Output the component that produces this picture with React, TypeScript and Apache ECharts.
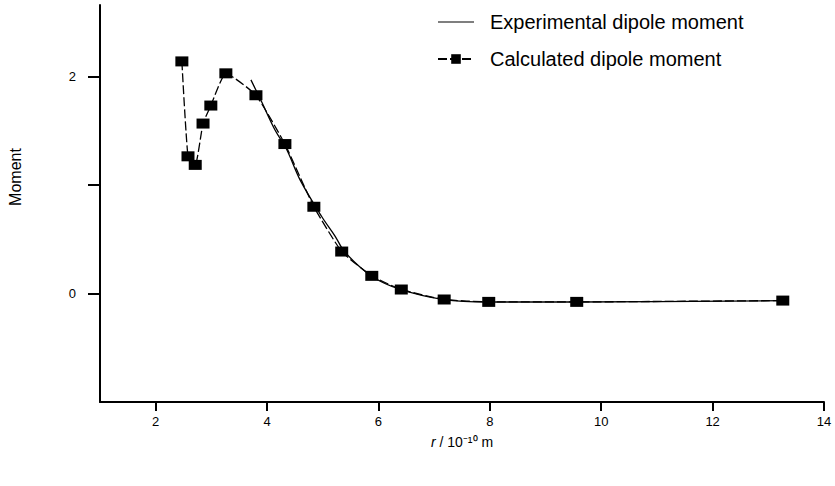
import React, { useEffect, useRef } from "react";
import * as echarts from "echarts";

const calcX = [2.47, 2.58, 2.71, 2.85, 2.99, 3.26, 3.8, 4.32, 4.84, 5.34, 5.88, 6.41, 7.18, 7.98, 9.56, 13.26];
const calcY = [2.14, 1.265, 1.186, 1.567, 1.733, 2.03, 1.828, 1.378, 0.8, 0.387, 0.163, 0.037, -0.055, -0.077, -0.077, -0.065];

const expX = [3.71, 3.9, 4.14, 4.35, 4.59, 4.98, 5.22, 5.4, 5.88, 6.41, 7.18, 7.98, 9.56, 13.26];
const expY = [1.97, 1.77, 1.51, 1.33, 1.05, 0.71, 0.53, 0.38, 0.16, 0.035, -0.057, -0.078, -0.078, -0.066];

const xTicks = [2, 4, 6, 8, 10, 12, 14];
const yTicks = [0, 1, 2];
const yLabels = [0, 2];

const FONT = "'Liberation Sans', Arial, Helvetica, sans-serif";

export default function App() {
  const ref = useRef<HTMLDivElement>(null);
  useEffect(() => {
    if (!ref.current) return;
    document.body.style.margin = "0";
    const chart = echarts.init(ref.current, null, { renderer: "svg" });
    chart.setOption({
      animation: false,
      backgroundColor: "#fff",
      textStyle: { fontFamily: FONT, color: "#000" },
      grid: { left: 100, right: 11, top: 5, bottom: 84 },
      legend: {
        orient: "vertical",
        left: 432,
        top: 7,
        itemWidth: 36,
        itemHeight: 12,
        itemGap: 17,
        textStyle: { fontSize: 20, color: "#000", fontFamily: FONT, padding: [0, 0, 0, 11] },
        data: [
          { name: "Experimental dipole moment", icon: "path://M0,0 L36,0 L36,1.2 L0,1.2 Z" },
          { name: "Calculated dipole moment" },
        ],
      },
      xAxis: {
        type: "value",
        min: 1,
        max: 14,
        name: "{i|r} / 10\u207B\u00B9\u2070 m",
        nameLocation: "middle",
        nameGap: 33,
        nameTextStyle: {
          fontSize: 14,
          color: "#000",
          fontFamily: FONT,
          rich: { i: { fontSize: 14, fontStyle: "italic", fontFamily: FONT, color: "#000" } },
        },
        splitLine: { show: false },
        axisLine: { onZero: false, lineStyle: { color: "#000", width: 2 } },
        axisTick: { length: 9, lineStyle: { color: "#000", width: 2 }, customValues: xTicks },
        axisLabel: { fontSize: 13, color: "#000", margin: 13, customValues: xTicks },
      },
      yAxis: {
        type: "value",
        min: -1,
        max: 2.66,
        splitLine: { show: false },
        axisLine: { onZero: false, lineStyle: { color: "#000", width: 2 } },
        axisTick: { length: 12, lineStyle: { color: "#000", width: 2 }, customValues: yTicks },
        axisLabel: { fontSize: 13, color: "#000", margin: 24, customValues: yLabels },
      },
      graphic: [
        {
          type: "text",
          x: 15,
          y: 177,
          rotation: Math.PI / 2,
          style: {
            text: "Moment",
            fontSize: 16,
            fontFamily: FONT,
            fill: "#000",
            align: "center",
            verticalAlign: "middle",
          },
        },
      ],
      series: [
        {
          name: "Experimental dipole moment",
          type: "line",
          data: expX.map((x, i) => [x, expY[i]]),
          smooth: 0.35,
          symbol: "none",
          lineStyle: { color: "#000", width: 1.3 },
          itemStyle: { color: "#000" },
          z: 2,
        },
        {
          name: "Calculated dipole moment",
          type: "line",
          data: calcX.map((x, i) => [x, calcY[i]]),
          smooth: 0.15,
          symbol: "rect",
          symbolSize: [13, 10],
          lineStyle: { color: "#000", width: 1.3, type: [9, 3] },
          itemStyle: { color: "#000" },
          z: 3,
        },
      ],
    });
    return () => chart.dispose();
  }, []);
  return <div ref={ref} style={{ width: 835, height: 486 }} />;
}
